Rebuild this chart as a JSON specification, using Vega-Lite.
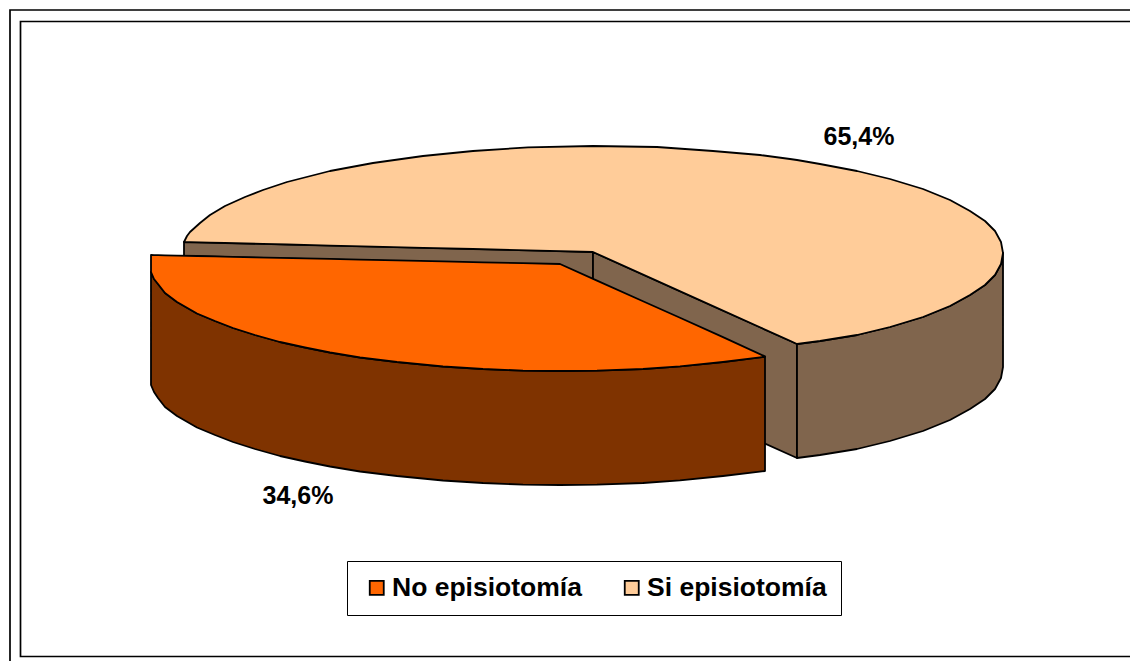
{"$schema":"https://vega.github.io/schema/vega-lite/v6.json","width":1130,"height":661,"autosize":{"type":"fit","contains":"padding"},"padding":0,"background":"white","config":{"view":{"stroke":null}},"layer":[{"data":{"values":[{"marco":"exterior","x":10,"x2":1145,"y":10,"y2":680},{"marco":"interior","x":20.5,"x2":1145,"y":21.5,"y2":656.5}]},"mark":{"type":"rect","fill":null,"stroke":"black","strokeWidth":1.7,"clip":true},"encoding":{"x":{"field":"x","type":"quantitative","scale":{"domain":[0,1130],"nice":false,"zero":false},"axis":null},"x2":{"field":"x2"},"y":{"field":"y","type":"quantitative","scale":{"domain":[661,0],"nice":false,"zero":false},"axis":null},"y2":{"field":"y2"}}},{"data":{"values":[{"serie":"Si lateral","pieza":"franja","x":184,"y":242,"y2":256},{"serie":"Si lateral","pieza":"franja","x":560,"y":251,"y2":265},{"serie":"Si lateral","pieza":"franja","x":593,"y":252,"y2":280},{"serie":"Si lateral","pieza":"pared","x":593,"y":252,"y2":366},{"serie":"Si lateral","pieza":"pared","x":797,"y":344,"y2":458},{"serie":"Si lateral","pieza":"costado","x":797,"y":344,"y2":458},{"serie":"Si lateral","pieza":"costado","x":820,"y":341,"y2":455},{"serie":"Si lateral","pieza":"costado","x":857,"y":335,"y2":449},{"serie":"Si lateral","pieza":"costado","x":890,"y":327,"y2":441},{"serie":"Si lateral","pieza":"costado","x":923,"y":317,"y2":431},{"serie":"Si lateral","pieza":"costado","x":950,"y":306,"y2":420},{"serie":"Si lateral","pieza":"costado","x":970,"y":295,"y2":409},{"serie":"Si lateral","pieza":"costado","x":985,"y":285,"y2":399},{"serie":"Si lateral","pieza":"costado","x":995,"y":275,"y2":389},{"serie":"Si lateral","pieza":"costado","x":1001,"y":264,"y2":378},{"serie":"Si lateral","pieza":"costado","x":1003,"y":253,"y2":367},{"serie":"Si episiotomía","pieza":"tapa si","x":184,"y":242,"y2":242},{"serie":"Si episiotomía","pieza":"tapa si","x":185,"y":240,"y2":242},{"serie":"Si episiotomía","pieza":"tapa si","x":187,"y":236,"y2":242.1},{"serie":"Si episiotomía","pieza":"tapa si","x":190,"y":232,"y2":242.2},{"serie":"Si episiotomía","pieza":"tapa si","x":200,"y":223,"y2":242.4},{"serie":"Si episiotomía","pieza":"tapa si","x":210,"y":215,"y2":242.6},{"serie":"Si episiotomía","pieza":"tapa si","x":225,"y":206,"y2":243},{"serie":"Si episiotomía","pieza":"tapa si","x":245,"y":197,"y2":243.5},{"serie":"Si episiotomía","pieza":"tapa si","x":263,"y":190,"y2":243.9},{"serie":"Si episiotomía","pieza":"tapa si","x":287,"y":182,"y2":244.5},{"serie":"Si episiotomía","pieza":"tapa si","x":330,"y":171,"y2":245.6},{"serie":"Si episiotomía","pieza":"tapa si","x":373,"y":163,"y2":246.6},{"serie":"Si episiotomía","pieza":"tapa si","x":423,"y":156,"y2":247.8},{"serie":"Si episiotomía","pieza":"tapa si","x":473,"y":151,"y2":249},{"serie":"Si episiotomía","pieza":"tapa si","x":528,"y":147.4,"y2":250.4},{"serie":"Si episiotomía","pieza":"tapa si","x":593,"y":146,"y2":252},{"serie":"Si episiotomía","pieza":"tapa si","x":657,"y":147,"y2":280.9},{"serie":"Si episiotomía","pieza":"tapa si","x":713,"y":151,"y2":306.1},{"serie":"Si episiotomía","pieza":"tapa si","x":760,"y":155,"y2":327.3},{"serie":"Si episiotomía","pieza":"tapa si","x":790,"y":159,"y2":340.8},{"serie":"Si episiotomía","pieza":"tapa si","x":797,"y":160,"y2":344},{"serie":"Si episiotomía","pieza":"tapa si","x":820,"y":164,"y2":341},{"serie":"Si episiotomía","pieza":"tapa si","x":857,"y":171,"y2":335},{"serie":"Si episiotomía","pieza":"tapa si","x":890,"y":179,"y2":327},{"serie":"Si episiotomía","pieza":"tapa si","x":923,"y":189,"y2":317},{"serie":"Si episiotomía","pieza":"tapa si","x":950,"y":200,"y2":306},{"serie":"Si episiotomía","pieza":"tapa si","x":970,"y":211,"y2":295},{"serie":"Si episiotomía","pieza":"tapa si","x":985,"y":221,"y2":285},{"serie":"Si episiotomía","pieza":"tapa si","x":995,"y":231,"y2":275},{"serie":"Si episiotomía","pieza":"tapa si","x":1001,"y":242,"y2":264},{"serie":"Si episiotomía","pieza":"tapa si","x":1003,"y":253,"y2":253},{"serie":"No lateral","pieza":"costado no","x":151,"y":272,"y2":385},{"serie":"No lateral","pieza":"costado no","x":154,"y":279,"y2":392},{"serie":"No lateral","pieza":"costado no","x":158,"y":284,"y2":398},{"serie":"No lateral","pieza":"costado no","x":165,"y":293,"y2":407},{"serie":"No lateral","pieza":"costado no","x":177,"y":302,"y2":416},{"serie":"No lateral","pieza":"costado no","x":197,"y":313.5,"y2":427.5},{"serie":"No lateral","pieza":"costado no","x":215,"y":321,"y2":435},{"serie":"No lateral","pieza":"costado no","x":233,"y":328,"y2":442},{"serie":"No lateral","pieza":"costado no","x":255,"y":335,"y2":449},{"serie":"No lateral","pieza":"costado no","x":280,"y":342,"y2":456},{"serie":"No lateral","pieza":"costado no","x":305,"y":347.5,"y2":461.5},{"serie":"No lateral","pieza":"costado no","x":330,"y":352.5,"y2":466.5},{"serie":"No lateral","pieza":"costado no","x":360,"y":357.5,"y2":471.5},{"serie":"No lateral","pieza":"costado no","x":397,"y":362,"y2":476},{"serie":"No lateral","pieza":"costado no","x":443,"y":366.5,"y2":480.5},{"serie":"No lateral","pieza":"costado no","x":483,"y":369,"y2":483},{"serie":"No lateral","pieza":"costado no","x":523,"y":370.6,"y2":484.6},{"serie":"No lateral","pieza":"costado no","x":560,"y":371,"y2":485},{"serie":"No lateral","pieza":"costado no","x":597,"y":370.6,"y2":484.6},{"serie":"No lateral","pieza":"costado no","x":643,"y":369,"y2":483},{"serie":"No lateral","pieza":"costado no","x":680,"y":366.4,"y2":480.4},{"serie":"No lateral","pieza":"costado no","x":723,"y":362,"y2":476},{"serie":"No lateral","pieza":"costado no","x":765,"y":356.8,"y2":471},{"serie":"No episiotomía","pieza":"tapa no","x":151,"y":255,"y2":272},{"serie":"No episiotomía","pieza":"tapa no","x":154,"y":255.1,"y2":279},{"serie":"No episiotomía","pieza":"tapa no","x":158,"y":255.2,"y2":284},{"serie":"No episiotomía","pieza":"tapa no","x":165,"y":255.3,"y2":293},{"serie":"No episiotomía","pieza":"tapa no","x":177,"y":255.6,"y2":302},{"serie":"No episiotomía","pieza":"tapa no","x":197,"y":256,"y2":313.5},{"serie":"No episiotomía","pieza":"tapa no","x":215,"y":256.4,"y2":321},{"serie":"No episiotomía","pieza":"tapa no","x":233,"y":256.8,"y2":328},{"serie":"No episiotomía","pieza":"tapa no","x":255,"y":257.3,"y2":335},{"serie":"No episiotomía","pieza":"tapa no","x":280,"y":257.8,"y2":342},{"serie":"No episiotomía","pieza":"tapa no","x":305,"y":258.4,"y2":347.5},{"serie":"No episiotomía","pieza":"tapa no","x":330,"y":258.9,"y2":352.5},{"serie":"No episiotomía","pieza":"tapa no","x":360,"y":259.6,"y2":357.5},{"serie":"No episiotomía","pieza":"tapa no","x":397,"y":260.4,"y2":362},{"serie":"No episiotomía","pieza":"tapa no","x":443,"y":261.4,"y2":366.5},{"serie":"No episiotomía","pieza":"tapa no","x":483,"y":262.3,"y2":369},{"serie":"No episiotomía","pieza":"tapa no","x":523,"y":263.2,"y2":370.6},{"serie":"No episiotomía","pieza":"tapa no","x":560,"y":264,"y2":371},{"serie":"No episiotomía","pieza":"tapa no","x":597,"y":280.6,"y2":370.6},{"serie":"No episiotomía","pieza":"tapa no","x":643,"y":301.2,"y2":369},{"serie":"No episiotomía","pieza":"tapa no","x":680,"y":317.8,"y2":366.4},{"serie":"No episiotomía","pieza":"tapa no","x":723,"y":337.1,"y2":362},{"serie":"No episiotomía","pieza":"tapa no","x":765,"y":356.4,"y2":356.8}]},"mark":{"type":"area","stroke":"black","strokeWidth":1.8,"strokeJoin":"round","interpolate":"linear","orient":"vertical"},"encoding":{"x":{"field":"x","type":"quantitative"},"y":{"field":"y","type":"quantitative"},"y2":{"field":"y2"},"detail":{"field":"pieza"},"color":{"field":"serie","type":"nominal","sort":null,"scale":{"domain":["No episiotomía","Si episiotomía","No lateral","Si lateral"],"range":["#FF6600","#FFCC99","#7F3300","#80654D"]},"legend":{"values":["No episiotomía","Si episiotomía"],"title":null,"orient":"none","legendX":347,"legendY":561,"direction":"horizontal","columns":2,"symbolType":"square","symbolSize":196,"symbolOffset":3,"symbolStrokeColor":"black","symbolStrokeWidth":1.8,"symbolOpacity":1,"labelFont":"Liberation Sans","labelFontWeight":"bold","labelFontSize":26.5,"labelColor":"black","labelOffset":2,"labelLimit":300,"columnPadding":33,"padding":13.5,"strokeColor":"black","fillColor":"white"}}}},{"data":{"values":[{"etiqueta":"65,4%","x":859,"y":137},{"etiqueta":"34,6%","x":298,"y":496}]},"mark":{"type":"text","font":"Liberation Sans","fontWeight":"bold","fontSize":25,"color":"black","align":"center","baseline":"middle"},"encoding":{"x":{"field":"x","type":"quantitative"},"y":{"field":"y","type":"quantitative"},"text":{"field":"etiqueta"}}}]}
